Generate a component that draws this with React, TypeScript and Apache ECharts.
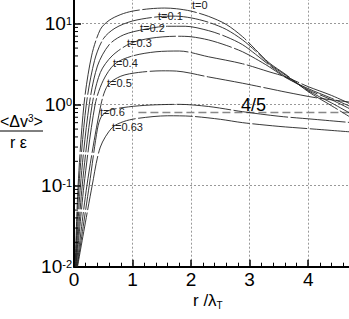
import React, { useEffect, useRef } from "react";
import * as echarts from "echarts";

// ---- data (x = r/λT, y = <Δv³>/(r ε)) ----
const seriesNames = ["t=0", "t=0.1", "t=0.2", "t=0.3", "t=0.4", "t=0.5", "t=0.6", "t=0.63"];

const t0 = [[0.02,0.01],[0.07,0.1],[0.17,1],[0.3,4],[0.45,8.5],[0.6,11],[0.8,13],[1.0,14.3],[1.3,15.3],[1.55,15.6],[1.75,15.3],[2.0,14.3],[2.3,12.3],[2.6,9.8],[2.88,6.9],[3.1,4.8],[3.33,3.3],[3.62,2.35],[4.0,1.45],[4.4,0.97],[4.75,0.68]];
const t01 = [[0.025,0.01],[0.085,0.1],[0.21,1],[0.35,3.5],[0.5,6.5],[0.7,8.8],[1.0,10.8],[1.44,12.2],[1.73,12.4],[2.0,11.8],[2.3,10.4],[2.6,8.5],[2.88,6.3],[3.1,4.6],[3.33,3.2],[3.62,2.3],[4.0,1.49],[4.4,1.05],[4.75,0.76]];
const t02 = [[0.03,0.01],[0.11,0.1],[0.26,1],[0.4,3],[0.6,5.5],[0.85,7.3],[1.2,8.5],[1.6,9.3],[1.9,9.3],[2.3,8.2],[2.6,6.9],[2.88,5.5],[3.1,4.2],[3.33,3.1],[3.62,2.2],[4.0,1.53],[4.4,1.15],[4.75,0.86]];
const t03 = [[0.035,0.01],[0.14,0.1],[0.31,1],[0.45,2.5],[0.65,4],[0.96,5.7],[1.3,6.6],[1.75,7.0],[2.0,6.9],[2.3,6.3],[2.6,5.4],[2.88,4.5],[3.1,3.7],[3.33,2.95],[3.62,2.15],[4.0,1.58],[4.4,1.2],[4.75,0.93]];
const t04 = [[0.04,0.01],[0.17,0.1],[0.36,1],[0.5,2.0],[0.7,3.2],[1.0,4.0],[1.4,4.5],[1.8,4.6],[2.3,3.9],[2.88,3.2],[3.33,2.55],[3.62,2.2],[4.0,1.67],[4.4,1.3],[4.75,1.0]];
const t05 = [[0.05,0.01],[0.22,0.1],[0.46,1],[0.58,1.75],[0.8,2.25],[1.1,2.5],[1.5,2.62],[1.75,2.6],[2.3,2.2],[2.88,1.84],[3.33,1.58],[3.62,1.43],[4.13,1.22],[4.75,1.07]];
const t06 = [[0.055,0.01],[0.26,0.1],[0.4,0.5],[0.47,0.72],[0.6,0.85],[0.93,0.94],[1.3,0.99],[1.8,1.01],[2.3,0.95],[2.88,0.82],[3.5,0.72],[4.1,0.66],[4.75,0.6]];
const t063 = [[0.06,0.01],[0.31,0.1],[0.45,0.3],[0.65,0.52],[0.85,0.62],[1.1,0.68],[1.6,0.73],[2.0,0.72],[2.5,0.66],[2.88,0.6],[3.5,0.54],[4.1,0.5],[4.75,0.46]];
const curves = [t0, t01, t02, t03, t04, t05, t06, t063];

const kolmogorov = [[1.1, 0.8], [5, 0.8]];
const kolmogorovLabel = "4/5";

const xTicks = [0, 1, 2, 3, 4, 5];
const xLabelMax = 4;
const yLabelMax = 10;
const yMinorTicks = [0.01, 0.1, 1, 10].flatMap((d) => [2, 3, 4, 5, 6, 7, 8, 9].map((m) => +(m * d).toPrecision(3)));

// label layout (pixels)
const labelPos = [
  [192, 4.5], [158, 16], [140, 27.5], [127, 43], [113, 63], [107, 83], [100, 112], [112, 127],
];

const FONT = "Liberation Sans";

export default function App() {
  const ref = useRef<HTMLDivElement>(null);
  useEffect(() => {
    const chart = echarts.init(ref.current!, null, { renderer: "svg" });
    const curveSeries = curves.map((d, i) => ({
      name: seriesNames[i],
      type: "line",
      data: d,
      showSymbol: false,
      smooth: 0.3,
      lineStyle: { color: "#222", width: 0.9, type: [55, 2.5] },
      z: 3,
    }));
    const option: any = {
      animation: false,
      textStyle: { fontFamily: FONT },
      grid: { left: 74, top: -57.3, width: 292.75, height: 324, containLabel: false, outerBoundsMode: "none" },
      xAxis: {
        type: "value",
        min: xTicks[0],
        max: xTicks[xTicks.length - 1],
        interval: 1,
        axisLine: { show: true, lineStyle: { color: "#000", width: 2 } },
        axisTick: { show: true, inside: true, length: 7, lineStyle: { color: "#000", width: 1.5 } },
        minorTick: { show: true, splitNumber: 5, length: 4, lineStyle: { color: "#000", width: 1 } },
        axisLabel: {
          color: "#000",
          fontSize: 19,
          margin: 3,
          fontFamily: FONT,
          formatter: (v: number) => (v > xLabelMax ? "" : String(v)),
        },
        splitLine: { show: true, lineStyle: { color: "#999", width: 1, type: [2, 2] } },
      },
      yAxis: {
        type: "log",
        logBase: 10,
        min: 0.01,
        max: 100,
        axisLine: { show: true, lineStyle: { color: "#000", width: 2 } },
        axisTick: { show: true, inside: true, length: 7, lineStyle: { color: "#000", width: 1.5 } },
        axisLabel: {
          color: "#000",
          margin: 2,
          fontFamily: FONT,
          formatter: (v: number) => {
            const e = Math.round(Math.log10(v));
            if (Math.abs(Math.log10(v) - e) > 1e-6 || v > yLabelMax) return "";
            return `{b|10}{s|${e}}`;
          },
          rich: {
            b: { fontSize: 19, lineHeight: 20, fontFamily: FONT, color: "#000" },
            s: { fontSize: 11, lineHeight: 11, verticalAlign: "top", padding: [2, 0, 0, 0], fontFamily: FONT, color: "#000" },
          },
        },
        splitLine: { show: true, lineStyle: { color: "#999", width: 1, type: [2, 2] } },
      },
      series: [
        ...curveSeries,
        {
          type: "line",
          data: kolmogorov,
          showSymbol: false,
          lineStyle: { color: "#888", width: 1.5, type: [8, 4] },
          z: 2,
        },
        {
          type: "custom",
          data: yMinorTicks.map((v) => [0, v]),
          clip: false,
          silent: true,
          z: 6,
          renderItem: (_p: any, api: any) => {
            const pt = api.coord([api.value(0), api.value(1)]);
            return {
              type: "line",
              shape: { x1: pt[0], y1: pt[1], x2: pt[0] + 4, y2: pt[1] },
              style: { stroke: "#000", lineWidth: 1 },
            };
          },
        },
      ],
      graphic: [
        ...seriesNames.map((n, i) => ({
          type: "text",
          x: labelPos[i][0],
          y: labelPos[i][1],
          style: { text: n, fontSize: 11, fontFamily: FONT, fill: "#222", verticalAlign: "middle", align: "left" },
          z: 10,
        })),
        {
          type: "text",
          x: 241,
          y: 105,
          style: { text: kolmogorovLabel, fontSize: 18, fontFamily: FONT, fill: "#000", verticalAlign: "middle" },
          z: 10,
        },
        {
          type: "text",
          x: 0,
          y: 113,
          style: {
            text: "{a|<Δv}{s|3}{a|>}",
            rich: {
              a: { fontSize: 16, lineHeight: 16, fontFamily: FONT, fill: "#000" },
              s: { fontSize: 10, lineHeight: 10, verticalAlign: "top", fontFamily: FONT, fill: "#000" },
            },
          },
          z: 10,
        },
        { type: "line", shape: { x1: 0, y1: 131, x2: 43, y2: 131 }, style: { stroke: "#000", lineWidth: 1 } },
        {
          type: "text",
          x: 10,
          y: 134,
          style: { text: "r ε", fontSize: 16, fontFamily: FONT, fill: "#000" },
        },
        {
          type: "text",
          x: 193,
          y: 290,
          style: {
            text: "{a|r /λ}{s|T}",
            rich: {
              a: { fontSize: 17, lineHeight: 20, fontFamily: FONT, fill: "#000" },
              s: { fontSize: 10, lineHeight: 10, verticalAlign: "bottom", fontFamily: FONT, fill: "#000" },
            },
          },
        },
      ],
    };
    chart.setOption(option);
    return () => chart.dispose();
  }, []);
  return <div ref={ref} style={{ position: "absolute", left: 0, top: 0, width: 349, height: 319 }} />;
}
